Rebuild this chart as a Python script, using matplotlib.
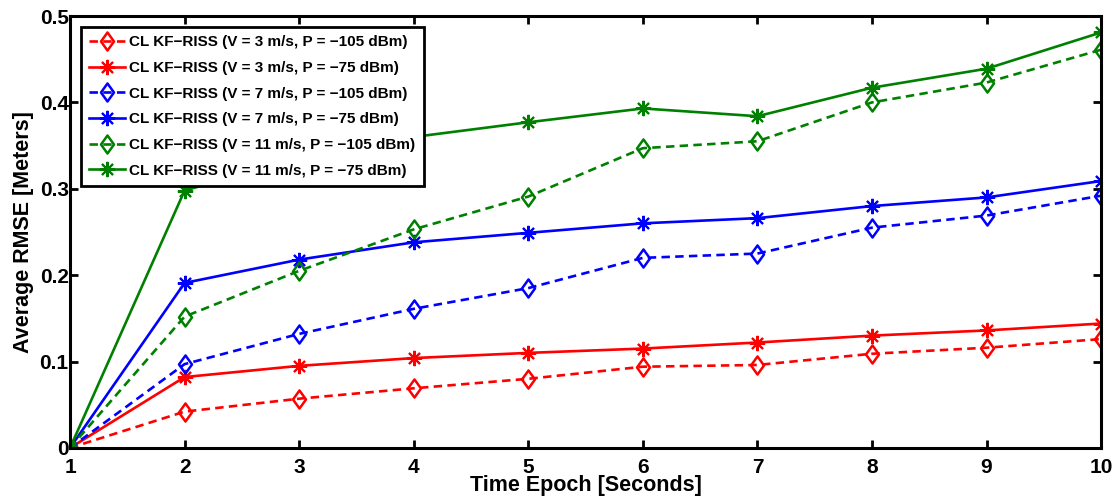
import numpy as np
import matplotlib
matplotlib.use('Agg')
import matplotlib.pyplot as plt
from matplotlib.path import Path

plt.rcParams['font.family'] = 'Liberation Sans'
plt.rcParams['font.weight'] = 'bold'

epochs = np.arange(1, 11)

red_105 = [0, 0.042, 0.057, 0.069, 0.080, 0.094, 0.096, 0.109, 0.116, 0.126]
red_75 = [0, 0.082, 0.095, 0.104, 0.110, 0.115, 0.122, 0.130, 0.136, 0.144]
blue_105 = [0, 0.097, 0.132, 0.161, 0.185, 0.220, 0.225, 0.255, 0.269, 0.292]
blue_75 = [0, 0.191, 0.218, 0.238, 0.249, 0.260, 0.266, 0.280, 0.290, 0.309]
green_105 = [0, 0.152, 0.205, 0.253, 0.291, 0.347, 0.355, 0.400, 0.423, 0.461]
green_75 = [0, 0.298, 0.335, 0.360, 0.377, 0.393, 0.384, 0.417, 0.439, 0.481]

labels = ['CL KF\u2212RISS (V = 3 m/s, P = \u2212105 dBm)',
          'CL KF\u2212RISS (V = 3 m/s, P = \u221275 dBm)',
          'CL KF\u2212RISS (V = 7 m/s, P = \u2212105 dBm)',
          'CL KF\u2212RISS (V = 7 m/s, P = \u221275 dBm)',
          'CL KF\u2212RISS (V = 11 m/s, P = \u2212105 dBm)',
          'CL KF\u2212RISS (V = 11 m/s, P = \u221275 dBm)']

green = (0, 0.5, 0)
series = [(red_105, 'red', '--'), (red_75, 'red', '-'),
          (blue_105, 'blue', '--'), (blue_75, 'blue', '-'),
          (green_105, green, '--'), (green_75, green, '-')]

# matlab style diamond, a bit narrower than tall
diamond = Path([(0, 1), (0.72, 0), (0, -1), (-0.72, 0), (0, 1)], closed=True)

fig = plt.figure(figsize=(11.19, 5.01), dpi=100)
ax = fig.add_axes([0.0626, 0.106, 0.9214, 0.862])

for (vals, c, ls), lab in zip(series, labels):
    if ls == '--':
        ax.plot(epochs, vals, ls, color=c, lw=1.9, marker=diamond, ms=13,
                mfc='none', mec=c, mew=1.8, dashes=(3.2, 2.0), label=lab)
    else:
        ax.plot(epochs, vals, ls, color=c, lw=1.9, marker=(8, 2, 0), ms=11,
                mec=c, mew=1.5, label=lab)

ax.set_xlim(1, 10)
ax.set_ylim(0, 0.5)
ax.set_xticks(epochs)
ax.set_yticks([0, 0.1, 0.2, 0.3, 0.4, 0.5])
ax.set_yticklabels(['0', '0.1', '0.2', '0.3', '0.4', '0.5'])
ax.tick_params(direction='in', top=True, right=True, length=6, width=2,
               labelsize=15)
ax.tick_params(axis='x', pad=7)
ax.tick_params(axis='y', pad=1)
for s in ax.spines.values():
    s.set_linewidth(2.2)
ax.set_xlabel('Time Epoch [Seconds]', fontsize=15.5, fontweight='bold', labelpad=-1)
ax.set_ylabel('Average RMSE [Meters]', fontsize=15.5, fontweight='bold', labelpad=4)

leg = ax.legend(loc='upper left', bbox_to_anchor=(0.0107, 0.9745), fontsize=11,
                fancybox=False, framealpha=1, edgecolor='black',
                handlelength=2.3, handletextpad=0.3,
                borderpad=0.55, labelspacing=0.76, borderaxespad=0)
leg.get_frame().set_linewidth(2)
for t in leg.get_texts():
    t.set_fontweight('bold')

fig.savefig('out.png', dpi=100)
